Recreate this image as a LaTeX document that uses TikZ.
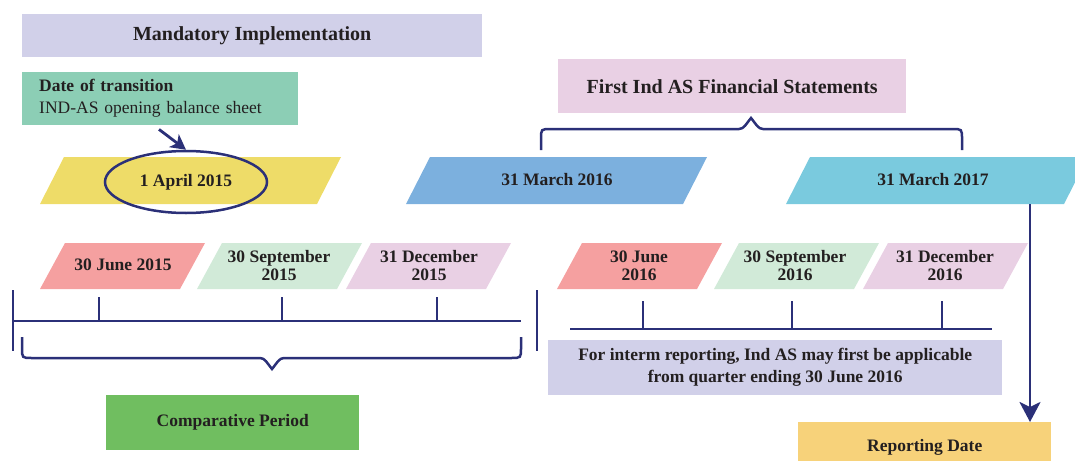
\documentclass[tikz,border=0pt]{standalone}
\usepackage{fontspec}
\setmainfont{Liberation Serif}
\usetikzlibrary{arrows.meta,shapes.geometric,positioning,calc}
\definecolor{navyLine}  {RGB}{43,  48, 120}
\definecolor{textDark}  {RGB}{35,  31,  32}
\definecolor{lavFill}   {RGB}{209, 208, 233}
\definecolor{mintFill}  {RGB}{140, 206, 181}
\definecolor{yellowFill}{RGB}{238, 220, 104}
\definecolor{blueFill}  {RGB}{124, 176, 222}
\definecolor{cyanFill}  {RGB}{122, 202, 222}
\definecolor{pinkFill}  {RGB}{233, 208, 228}
\definecolor{roseFill}  {RGB}{245, 160, 160}
\definecolor{mintLight} {RGB}{209, 234, 216}
\definecolor{greenFill} {RGB}{112, 190,  96}
\definecolor{orangeFill}{RGB}{247, 210, 122}

\begin{document}
\begin{tikzpicture}[x=1pt,y=-1pt,
    box/.style={rectangle,inner sep=0pt,anchor=north west,text=textDark,align=center},
    big/.style={font=\bfseries\fontsize{20}{24}\selectfont},
    small/.style={font=\bfseries\fontsize{17.5}{18}\selectfont},
    lbl/.style={small,text=textDark,align=center,inner sep=0pt},
    navy/.style={draw=navyLine,line width=2.8pt},
    arr/.style={navyLine,line width=2.8pt,-{Stealth[length=20pt,width=21pt,inset=5pt]}}]

    \clip (0,0) rectangle (1075,460);

    % ─── Cabecalhos ───────────────────────────────────────
    \node[box,big,fill=lavFill,minimum width=460pt,minimum height=43pt] (mand) at (22,14)
      {Mandatory Implementation};
    \node[box,fill=mintFill,minimum width=276pt,minimum height=53pt,text width=242pt,
          inner xsep=17pt,align=left,font=\fontsize{17.5}{22}\selectfont] (trans) at (22,72)
      {\textbf{Date of transition}\\IND-AS opening balance sheet};
    \node[box,big,fill=pinkFill,minimum width=348pt,minimum height=54pt] (first) at (558,59)
      {First Ind AS Financial Statements};

    % ─── Datas principais (linha 1) ───────────────────────
    \fill[yellowFill] (40,204) -- ++(277,0) -- ++(24,-47) -- ++(-277,0) -- cycle;
    \fill[blueFill]   (406,204) -- ++(277,0) -- ++(24,-47) -- ++(-277,0) -- cycle;
    \fill[cyanFill]   (786,204) -- ++(278,0) -- ++(24,-47) -- ++(-278,0) -- cycle;
    \node[ellipse,navy,line width=2.5pt,minimum width=162pt,minimum height=62pt,lbl] (apr)
      at (186,182) {1 April 2015};
    \node[lbl] (mar16) at (557,180) {31 March 2016};
    \node[lbl] (mar17) at (933,180) {31 March 2017};

    % chave sobre 2016/2017
    \draw[navy,line width=2.5pt] (541,150) -- (541,139) .. controls (541,129) .. (551,129)
      -- (739,129) .. controls (744,129) and (746,124) .. (751,118)
      .. controls (756,124) and (758,129) .. (763,129)
      -- (952,129) .. controls (962,129) .. (962,139) -- (962,150);

    % ─── Trimestres (linha 2) ─────────────────────────────
    \foreach \bx/\col in {40/roseFill,197/mintLight,346/pinkFill,
                          557/roseFill,714/mintLight,863/pinkFill}{
      \fill[\col] (\bx,289) -- ++(140,0) -- ++(25,-46) -- ++(-140,0) -- cycle;
    }
    \node[lbl] (jun15) at (123,265) {30 June 2015};
    \node[lbl] (sep15) at (279,266) {30 September\\2015};
    \node[lbl] (dec15) at (429,266) {31 December\\2015};
    \node[lbl] (jun16) at (639,266) {30 June\\2016};
    \node[lbl] (sep16) at (795,266) {30 September\\2016};
    \node[lbl] (dec16) at (945,266) {31 December\\2016};

    % ─── Linhas do tempo ──────────────────────────────────
    \draw[navy] (13,290) -- (13,351);
    \draw[navy] (537,290) -- (537,351);
    \draw[navy] (13,321) -- (521,321);
    \foreach \x in {99,282,437}{
      \draw[navy] (\x,297) -- (\x,321);
    }
    \draw[navy] (570,329) -- (992,329);
    \foreach \x in {643,792,942}{
      \draw[navy] (\x,301) -- (\x,329);
    }

    % chave do periodo comparativo
    \draw[navy,line width=2.5pt] (22,337) -- (22,348) .. controls (22,358) .. (32,358)
      -- (260,358) .. controls (265,358) and (267,363) .. (272,369)
      .. controls (277,363) and (279,358) .. (284,358)
      -- (511,358) .. controls (521,358) .. (521,348) -- (521,337);

    % ─── Caixas de baixo ──────────────────────────────────
    \node[box,small,fill=greenFill,minimum width=253pt,minimum height=55pt] (comp) at (106,395)
      {Comparative Period};
    \node[box,fill=lavFill,minimum width=454pt,minimum height=55pt,
          font=\bfseries\fontsize{17.5}{22}\selectfont] (note) at (548,340)
      {For interm reporting, Ind AS may first be applicable\\from quarter ending 30 June 2016};
    \node[box,small,fill=orangeFill,minimum width=253pt,minimum height=50pt] (rep) at (798,422)
      {Reporting Date};

    % Setas
    \coordinate (mar17foot) at (1030,204);
    \draw[arr] (mar17foot) -- (mar17foot |- rep.north);
    \draw[arr,-{Stealth[length=15pt,width=16pt,inset=4pt]}]
      ([xshift=137pt,yshift=-4pt]trans.south west) -- (apr.north);

  \end{tikzpicture}
\end{document}
